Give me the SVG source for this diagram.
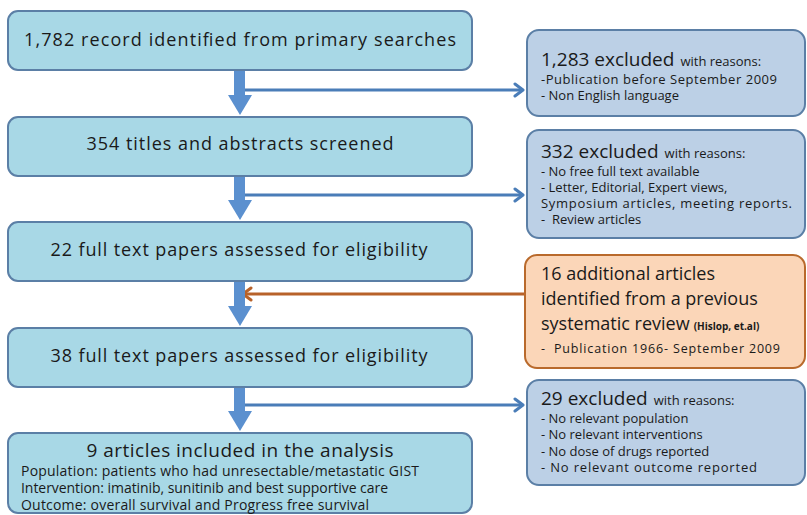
<svg xmlns="http://www.w3.org/2000/svg" width="807" height="515" viewBox="0 0 807 515">
  <defs>
    <style>
      .main { fill: #a8d8e6; stroke: #5b7fa6; stroke-width: 2; }
      .side { fill: #bcd0e6; stroke: #5b7fa6; stroke-width: 2; }
      .extra { fill: #fbd6b8; stroke: #b96a2c; stroke-width: 2; }
      .flow { fill: #5b90cf; }
      .link { fill: none; stroke: #4a7db8; stroke-width: 3; }
      .link-o { fill: none; stroke: #b8622a; stroke-width: 3; }
      text { font-family: "Open Sans", "Noto Sans", "DejaVu Sans", sans-serif; fill: #1a1a1a; }
      .t-main { font-size: 18px; text-anchor: middle; }
      .t-head { font-size: 19px; }
      .t-sub { font-size: 13px; }
      .t-body { font-size: 13px; }
      .t-inc { font-size: 14px; }
      .t-big { font-size: 18px; }
    </style>
    <marker id="chev-b" viewBox="0 0 12 16" refX="10" refY="8" markerWidth="12" markerHeight="16" markerUnits="userSpaceOnUse" orient="auto">
      <path d="M2,2 L10,8 L2,14" fill="none" stroke="#4a7db8" stroke-width="3" stroke-linecap="round" stroke-linejoin="round"/>
    </marker>
    <marker id="chev-o" viewBox="0 0 12 16" refX="10" refY="8" markerWidth="12" markerHeight="16" markerUnits="userSpaceOnUse" orient="auto">
      <path d="M2,2 L10,8 L2,14" fill="none" stroke="#b8622a" stroke-width="3" stroke-linecap="round" stroke-linejoin="round"/>
    </marker>
  </defs>

  <!-- connectors -->
  <g id="connectors">
    <path class="link" d="M241,90 H523" marker-end="url(#chev-b)"/>
    <path class="link" d="M241,195 H523" marker-end="url(#chev-b)"/>
    <path class="link" d="M241,405 H523" marker-end="url(#chev-b)"/>
    <path class="link-o" d="M525,294 H243" marker-end="url(#chev-o)"/>
    <!-- thick downward arrows -->
    <rect class="flow" x="234" y="70" width="11" height="26"/>
    <polygon class="flow" points="228,95 252,95 240,115"/>
    <rect class="flow" x="234" y="176" width="11" height="25"/>
    <polygon class="flow" points="228,200 252,200 240,220"/>
    <rect class="flow" x="234" y="281" width="11" height="26"/>
    <polygon class="flow" points="228,306 252,306 240,326"/>
    <rect class="flow" x="234" y="387" width="11" height="25"/>
    <polygon class="flow" points="228,411 252,411 240,431"/>
  </g>

  <g id="records">
    <rect class="main" x="8" y="11" width="464" height="59" rx="10"/>
    <text class="t-main" x="240" y="46" textLength="432" lengthAdjust="spacing">1,782 record identified from primary searches</text>
  </g>

  <g id="screened">
    <rect class="main" x="8" y="117" width="464" height="59" rx="10"/>
    <text class="t-main" x="240" y="150" textLength="307" lengthAdjust="spacing">354 titles and abstracts screened</text>
  </g>

  <g id="fulltext22">
    <rect class="main" x="8" y="222" width="464" height="59" rx="10"/>
    <text class="t-main" x="239" y="256" textLength="377" lengthAdjust="spacing">22 full text papers assessed for eligibility</text>
  </g>

  <g id="fulltext38">
    <rect class="main" x="8" y="328" width="464" height="59" rx="10"/>
    <text class="t-main" x="239" y="362" textLength="377" lengthAdjust="spacing">38 full text papers assessed for eligibility</text>
  </g>

  <g id="included">
    <rect class="main" x="8" y="433" width="464" height="80" rx="10"/>
    <text x="240" y="457" style="font-size:19px;text-anchor:middle" textLength="307" lengthAdjust="spacing">9 articles included in the analysis</text>
    <text class="t-inc" x="21" y="476" textLength="398" lengthAdjust="spacing">Population: patients who had unresectable/metastatic GIST</text>
    <text class="t-inc" x="21" y="493" textLength="367" lengthAdjust="spacing">Intervention: imatinib, sunitinib and best supportive care</text>
    <text class="t-inc" x="21" y="510" textLength="348" lengthAdjust="spacing">Outcome: overall survival and Progress free survival</text>
  </g>

  <g id="excluded1283">
    <rect class="side" x="527" y="30" width="278" height="86" rx="12"/>
    <text x="541" y="66"><tspan class="t-head">1,283 excluded</tspan><tspan class="t-sub" dx="6">with reasons:</tspan></text>
    <text class="t-body" x="541" y="84" textLength="236" lengthAdjust="spacing">-Publication before September 2009</text>
    <text class="t-body" x="541" y="100">- Non English language</text>
  </g>

  <g id="excluded332">
    <rect class="side" x="527" y="130" width="278" height="108" rx="12"/>
    <text x="541" y="158"><tspan class="t-head">332 excluded</tspan><tspan class="t-sub" dx="6">with reasons:</tspan></text>
    <text class="t-body" x="541" y="176">- No free full text available</text>
    <text class="t-body" x="541" y="192">- Letter, Editorial, Expert views,</text>
    <text class="t-body" x="541" y="208" textLength="251" lengthAdjust="spacing">Symposium articles, meeting reports.</text>
    <text class="t-body" x="541" y="224" xml:space="preserve">-  Review articles</text>
  </g>

  <g id="additional">
    <rect class="extra" x="525" y="255" width="280" height="113" rx="12"/>
    <text class="t-big" x="541" y="280">16 additional articles</text>
    <text class="t-big" x="541" y="305">identified from a previous</text>
    <text x="541" y="330"><tspan class="t-big">systematic review</tspan><tspan dx="4" style="font-size:10px;font-weight:bold">(Hislop, et.al)</tspan></text>
    <text x="541" y="353" style="font-size:12.5px" xml:space="preserve" textLength="239" lengthAdjust="spacing">-  Publication 1966- September 2009</text>
  </g>

  <g id="excluded29">
    <rect class="side" x="527" y="380" width="278" height="105" rx="12"/>
    <text x="541" y="405"><tspan class="t-head">29 excluded</tspan><tspan class="t-sub" dx="6">with reasons:</tspan></text>
    <text class="t-body" x="541" y="423">- No relevant population</text>
    <text class="t-body" x="541" y="439">- No relevant interventions</text>
    <text class="t-body" x="541" y="456">- No dose of drugs reported</text>
    <text class="t-body" x="541" y="472" textLength="216" lengthAdjust="spacing">- No relevant outcome reported</text>
  </g>
</svg>
